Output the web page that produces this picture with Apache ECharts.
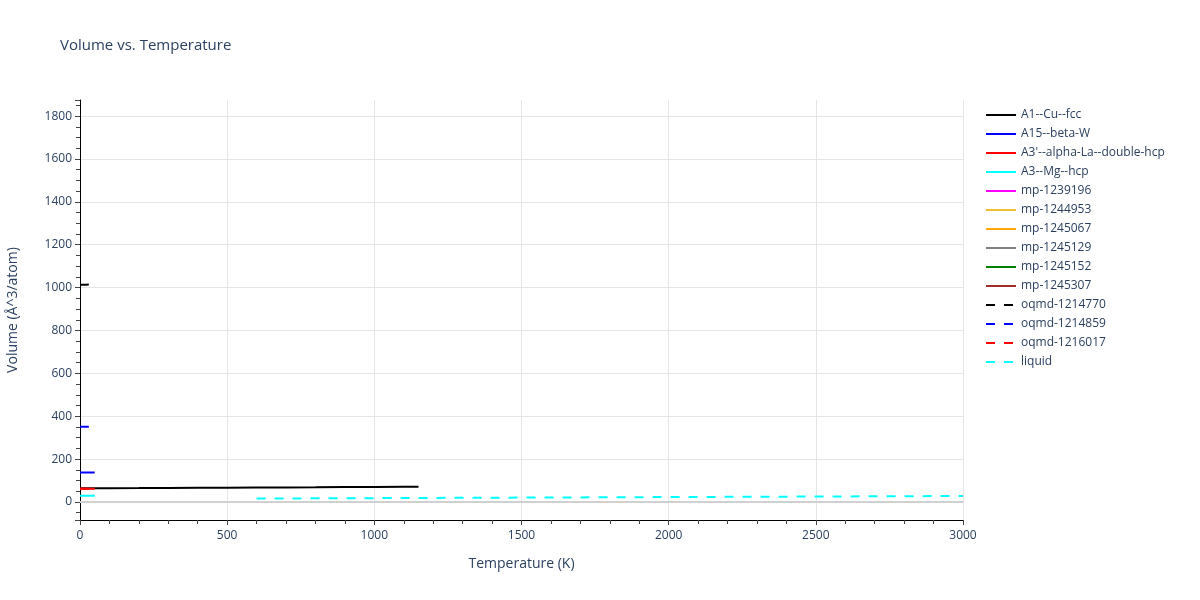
<!DOCTYPE html>
<html>
<head>
<meta charset="utf-8">
<script src="https://cdn.jsdelivr.net/npm/echarts@6/dist/echarts.min.js"></script>
<style>html,body{margin:0;padding:0;background:#fff}#c{width:1200px;height:600px}</style>
</head>
<body>
<div id="c"></div>
<script>
// Data (Temperature K, Volume Å^3/atom)
const seriesNames = ["A1--Cu--fcc","A15--beta-W","A3'--alpha-La--double-hcp","A3--Mg--hcp","mp-1239196","mp-1244953","mp-1245067","mp-1245129","mp-1245152","mp-1245307","oqmd-1214770","oqmd-1214859","oqmd-1216017","liquid"];
const cuFccT = [0,100,200,300,400,500,600,700,800,900,1000,1100,1150];
const cuFccV = [64.5,64.6,65.0,65.5,66.0,66.6,67.2,67.9,68.6,69.4,70.2,71.1,71.6];
const betaWT = [0,10,20,30,40,50];
const betaWV = [137,137,137,137.1,137.2,137.3];
const alphaLaT = [0,10,20,30,40,50];
const alphaLaV = [62,62,62,62.1,62.2,62.3];
const mgHcpT = [0,10,20,30,40,50];
const mgHcpV = [29,29,29,29.1,29.1,29.2];
const mpEmpty = [];
const oqmd1214770T = [0,10,20,30];
const oqmd1214770V = [1013,1013,1013.5,1014];
const oqmd1214859T = [0,10,20,30];
const oqmd1214859V = [351,351,351.2,351.5];
const oqmd1216017T = [0,10,20,30];
const oqmd1216017V = [62,62,62.1,62.2];
const liquidT = [600,900,1200,1500,1800,2100,2400,2700,3000];
const liquidV = [16,17.5,19,20.5,22,23.5,25,26.5,28];
const xTicks = [0,500,1000,1500,2000,2500,3000];

const colors = ["#000000","#0000ff","#ff0000","#00ffff","#ff00ff","#f0c030","#ffa500","#808080","#008000","#a52a2a","#000000","#0000ff","#ff0000","#00ffff"];
const zip = (a,b)=>a.map((v,i)=>[v,b[i]]);
const dataSets = [
  zip(cuFccT,cuFccV), zip(betaWT,betaWV), zip(alphaLaT,alphaLaV), zip(mgHcpT,mgHcpV),
  mpEmpty, mpEmpty, mpEmpty, mpEmpty, mpEmpty, mpEmpty,
  zip(oqmd1214770T,oqmd1214770V), zip(oqmd1214859T,oqmd1214859V), zip(oqmd1216017T,oqmd1216017V),
  zip(liquidT,liquidV)
];
const dashed = [false,false,false,false,false,false,false,false,false,false,true,true,true,true];

const txt = '#2a3f5f';
const font = '"Open Sans", Verdana, Arial, sans-serif';
const series = seriesNames.map((n,i)=>({
  name:n, type:'line', data:dataSets[i], showSymbol:false, symbol:'none',
  lineStyle:{color:colors[i], width:2, type: dashed[i]?[9,9]:'solid'},
  itemStyle:{color:colors[i]},
  z: 2+i, animation:false
}));
series[0].markLine = {silent:true, symbol:'none', label:{show:false}, animation:false,
  lineStyle:{color:'#d0d0d0', width:2, type:'solid'}, data:[{yAxis:0}], z:1};

const chart = echarts.init(document.getElementById('c'));
chart.setOption({
  animation:false,
  title:{text:'Volume vs. Temperature', left:55, top:33, textStyle:{fontFamily:font, fontSize:15, fontWeight:'normal', color:txt}},
  legend:{orient:'vertical', left:980, top:104, itemWidth:30, itemHeight:14, itemGap:7,
    itemStyle:{opacity:0},
    textStyle:{fontFamily:font, fontSize:12, color:txt}, data:seriesNames},
  grid:{left:80, right:237, top:100, bottom:80, containLabel:false, outerBoundsMode:'none'},
  xAxis:{type:'value', min:0, max:3000, interval:500, name:'Temperature (K)', nameLocation:'middle', nameGap:37,
    nameTextStyle:{fontFamily:font, fontSize:14, color:txt},
    axisLine:{show:true, onZero:false, lineStyle:{color:'#000', width:1}},
    axisTick:{show:true, length:5, lineStyle:{color:'#444'}},
    minorTick:{show:true, splitNumber:5, length:4, lineStyle:{color:'#444'}},
    axisLabel:{fontFamily:font, fontSize:12, color:txt, margin:10,
      formatter:v=>xTicks.includes(v)?String(v):''},
    splitLine:{show:true, lineStyle:{color:'#e5e5e5', width:1}}},
  yAxis:{type:'value', min:-84, max:1875, minInterval:200, maxInterval:200, splitNumber:10,
    name:'Volume (Å^3/atom)', nameLocation:'middle', nameGap:60,
    nameTextStyle:{fontFamily:font, fontSize:14, color:txt},
    axisLine:{show:true, onZero:false, lineStyle:{color:'#000', width:1}},
    axisTick:{show:true, length:5, lineStyle:{color:'#444'}},
    minorTick:{show:true, splitNumber:4, length:4, lineStyle:{color:'#444'}},
    axisLabel:{fontFamily:font, fontSize:12, color:txt, margin:8, showMinLabel:false, showMaxLabel:false,
      formatter:v=>String(v)},
    splitLine:{show:true, showMinLine:false, showMaxLine:false, lineStyle:{color:'#e5e5e5', width:1}}},
  series: series
});
</script>
</body>
</html>
